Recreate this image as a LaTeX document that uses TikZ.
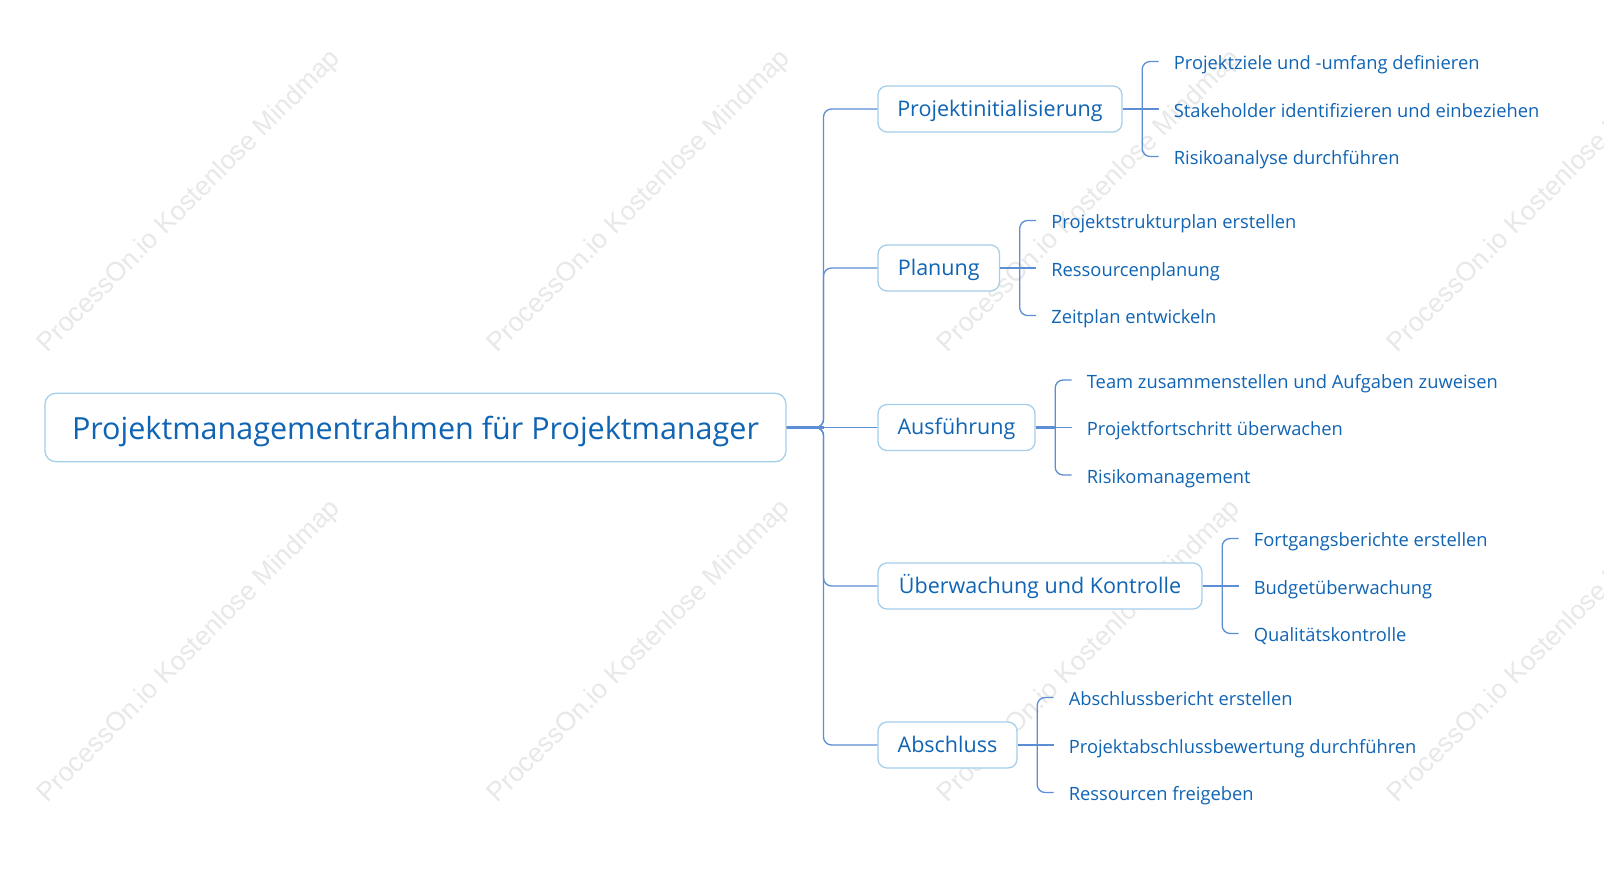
\documentclass[tikz,border=0pt]{standalone}
\usepackage{fontspec}
\setmainfont{Open Sans}
\newfontfamily\wmfont{Liberation Sans}
\usetikzlibrary{calc}
\definecolor{txt}{HTML}{1064B4}
\definecolor{bord}{HTML}{A5CFEA}
\definecolor{lin}{HTML}{5B8ED4}
\definecolor{wmc}{HTML}{E8E8E8}
\newlength\fitwa
\newlength\fitwb
\newlength\fitwc
\newcommand\fitmeasure[2]{\settowidth#1{\normalfont\fontsize{10pt}{12pt}\selectfont #2}}
\AtBeginDocument{%
  \fitmeasure\fitwa{Stakeholder identifizieren und einbeziehen}%
  \fitmeasure\fitwb{Team zusammenstellen und Aufgaben zuweisen}%
  \fitmeasure\fitwc{Projektabschlussbewertung durchführen}%
  \pgfmathsetmacro\leafsz{10*1124/(\fitwa+\fitwb+\fitwc)}%
  \xdef\leafsz{\leafsz}%
  \fitmeasure\fitwa{Projektinitialisierung}%
  \fitmeasure\fitwb{Überwachung und Kontrolle}%
  \pgfmathsetmacro\branchsz{10*(204.6+283)/(\fitwa+\fitwb)}%
  \xdef\branchsz{\branchsz}%
  \fitmeasure\fitwa{Projektmanagementrahmen für Projektmanager}%
  \pgfmathsetmacro\rootsz{10*687/\fitwa}%
  \xdef\rootsz{\rootsz}%
}
\begin{document}
\begin{tikzpicture}[x=1pt,y=-1pt]
\tikzset{
  rootbox/.style={draw=bord, line width=1.3pt, rounded corners=11pt, fill=white,
    text=txt, inner xsep=0pt, inner ysep=0pt, minimum height=68.5pt,
    text height=24.6pt, text depth=0pt,
    font=\fontsize{\rootsz pt}{\rootsz pt}\selectfont},
  branchbox/.style={draw=bord, line width=1.3pt, rounded corners=9pt, fill=white,
    text=txt, inner xsep=0pt, inner ysep=0pt, minimum height=46pt,
    text height=14.8pt, text depth=0pt,
    font=\fontsize{\branchsz pt}{\branchsz pt}\selectfont},
  leaftext/.style={text=txt, inner sep=0pt, anchor=west,
    text height=16pt, text depth=0pt,
    font=\fontsize{\leafsz pt}{\leafsz pt}\selectfont},
  conn/.style={draw=lin, line width=1.3pt, rounded corners=8pt},
  thickconn/.style={draw=lin, line width=2.2pt},
  wmark/.style={text=wmc, font=\wmfont\fontsize{26.6pt}{30pt}\selectfont, inner sep=0pt}
}
\useasboundingbox (0,0) rectangle (1604,870);
\fill[white] (0,0) rectangle (1604,870);
% --- watermarks
\begin{scope}
\clip (0,0) rectangle (1604,870);
\foreach \i/\wx in {1/189.5,2/639.5,3/1089.5,4/1539.5}{
  \foreach \j/\wy in {1/202,2/652}{
    \node[wmark, rotate=45] (wm-\i-\j) at (\wx,\wy) {ProcessOn.io Kostenlose Mindmap};
  }
}
\end{scope}
% --- nodes
\node[rootbox, minimum width=741pt] (root) at (415.5,427.5) {Projektmanagementrahmen für Projektmanager};
\coordinate (spine) at (823.5,427.5);
\node[branchbox, minimum width=244pt] (b1) at (1000,109) {Projektinitialisierung};
\node[branchbox, minimum width=121.5pt] (b2) at (938.75,268) {Planung};
\node[branchbox, minimum width=157pt] (b3) at (956.5,427.5) {Ausführung};
\node[branchbox, minimum width=324pt] (b4) at (1040,586) {Überwachung und Kontrolle};
\node[branchbox, minimum width=139pt] (b5) at (947.5,745) {Abschluss};
% leaves
\node[leaftext] (l11) at ($(b1.east)+(51,-47.5)$) {Projektziele und -umfang definieren};
\node[leaftext] (l12) at ($(b1.east)+(51,0)$) {Stakeholder identifizieren und einbeziehen};
\node[leaftext] (l13) at ($(b1.east)+(51,47.5)$) {Risikoanalyse durchführen};
\node[leaftext] (l21) at ($(b2.east)+(51,-47.5)$) {Projektstrukturplan erstellen};
\node[leaftext] (l22) at ($(b2.east)+(51,0)$) {Ressourcenplanung};
\node[leaftext] (l23) at ($(b2.east)+(51,47.5)$) {Zeitplan entwickeln};
\node[leaftext] (l31) at ($(b3.east)+(51,-47.5)$) {Team zusammenstellen und Aufgaben zuweisen};
\node[leaftext] (l32) at ($(b3.east)+(51,0)$) {Projektfortschritt überwachen};
\node[leaftext] (l33) at ($(b3.east)+(51,47.5)$) {Risikomanagement};
\node[leaftext] (l41) at ($(b4.east)+(51,-47.5)$) {Fortgangsberichte erstellen};
\node[leaftext] (l42) at ($(b4.east)+(51,0)$) {Budgetüberwachung};
\node[leaftext] (l43) at ($(b4.east)+(51,47.5)$) {Qualitätskontrolle};
\node[leaftext] (l51) at ($(b5.east)+(51,-47.5)$) {Abschlussbericht erstellen};
\node[leaftext] (l52) at ($(b5.east)+(51,0)$) {Projektabschlussbewertung durchführen};
\node[leaftext] (l53) at ($(b5.east)+(51,47.5)$) {Ressourcen freigeben};
% bracket coordinates
\foreach \b in {1,2,3,4,5}{
  \coordinate (k\b) at ($(b\b.east)+(19.5,0)$);
}
% --- connectors root -> branches
\draw[thickconn] (root.east) -- (spine);
\draw[conn] (root.east) -- (b3.west);
\foreach \b in {b1,b2,b4,b5}{
  \draw[conn] (root.east) -- (spine) -- (spine |- \b.west) -- (\b.west);
}
% --- connectors branches -> leaves
\foreach \b in {1,2,3,4,5}{
  \draw[thickconn] (b\b.east) -- (k\b);
  \draw[conn] (b\b.east) -- ($(l\b2.west)+(-15,0)$);
  \draw[conn] ($(l\b1.west)+(-15,0)$) -- (k\b |- l\b1.west) -- (k\b |- l\b3.west) -- ($(l\b3.west)+(-15,0)$);
}
\end{tikzpicture}
\end{document}
